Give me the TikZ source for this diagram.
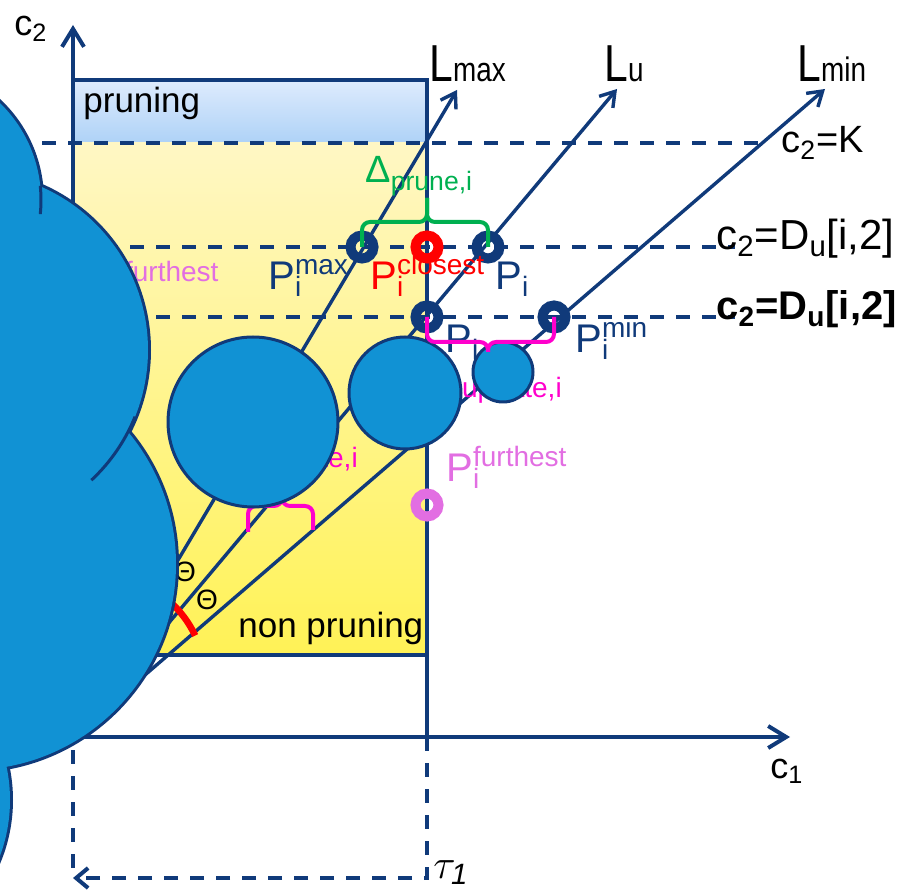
\documentclass[tikz,border=0pt]{standalone}
\usepackage{fontspec}
\setmainfont{Liberation Sans}
\newfontfamily\narrowsf[FakeStretch=0.82]{Liberation Sans}
\usetikzlibrary{arrows.meta}

\definecolor{navy}{RGB}{16,58,122}
\definecolor{cloudblue}{RGB}{17,146,212}
\definecolor{prunetop}{RGB}{222,235,253}
\definecolor{prunebot}{RGB}{174,210,247}
\definecolor{keeptop}{RGB}{255,247,196}
\definecolor{keepbot}{RGB}{255,242,86}
\definecolor{bracegreen}{RGB}{0,176,80}
\definecolor{bracepink}{RGB}{255,0,204}
\definecolor{orchid}{RGB}{226,110,226}

\newcommand{\fs}[1]{\fontsize{#1}{#1}\selectfont}
\newcommand{\Pt}[2]{P\rlap{\textsubscript{#1}}\textsuperscript{#2}}

\begin{document}
\begin{tikzpicture}[
    x=0.5pt, y=-0.5pt,
    ax/.style={navy, line width=2pt, -{Straight Barb[length=9pt, width=11pt]}},
    ray/.style={navy, line width=1.7pt, -{Straight Barb[length=7pt, width=9pt]}},
    level/.style={navy, line width=2pt, dash pattern=on 7pt off 6pt},
    ring/.style={circle, draw=#1, line width=5pt, inner sep=0pt, minimum size=11.5pt},
    bubble/.style={fill=cloudblue, draw=navy, line width=1.5pt},
    lbl/.style={anchor=base west, inner sep=0pt},
    brace/.style={line width=2pt, rounded corners=4pt}
]

\useasboundingbox (0,0) rectangle (899,892);

% regions
\shade[top color=prunetop, bottom color=prunebot] (73,80) rectangle (427,143);
\shade[top color=keeptop, bottom color=keepbot] (73,143) rectangle (427,655);
\draw[navy, line width=1.8pt] (73,80) -- (427,80) -- (427,737);
\draw[navy, line width=1.8pt] (73,655) -- (427,655);

% levels
\draw[level] (42,143) -- (763,143);
\draw[level] (0,247) -- (735,247);
\draw[level] (0,317) -- (735,317);

\node[lbl, font=\fs{17.5}] (prune) at (83,113) {pruning};
\node[lbl, font=\fs{17.5}] (keep) at (238,637) {non pruning};

% rays
\coordinate (O) at (73,737);
\coordinate (tmax) at (457,90);
\coordinate (tu) at (617,89);
\coordinate (tmin) at (825,89);
\draw[ray] (O) -- (tmax);
\draw[ray] (O) -- (tu);
\draw[ray] (O) -- (tmin);

% angle
\coordinate (ac) at (100,680);
\draw[red, line width=3.3pt] (ac) ++(-25:105) arc[start angle=-25, end angle=-70, radius=105];
\node[font=\fs{14}] (th1) at (185,572) {Θ};
\node[font=\fs{14}] (th2) at (207,600) {Θ};

% labels under the bubbles
\coordinate (bl) at (248,532);
\coordinate (br) at (313,530);
\draw[bracepink, brace] (bl) |- (282,506) -- (282,490);
\draw[bracepink, brace] (282,490) -- (282,506) -| (br);
\node[lbl, bracepink, font=\fs{20}] (upd1) at (231,461) {Δ\textsubscript{update,i}};
\node[lbl, bracepink, font=\fs{20}] (upd2) at (435,391) {Δ\textsubscript{update,i}};
\node[lbl, orchid, font=\fs{20}] (far1) at (98,297) {\Pt{i}{furthest}};

% bubbles
\draw[bubble] (253,422) circle[radius=85];
\draw[bubble] (405,393) circle[radius=56];
\draw[bubble] (503,372) circle[radius=30];

% points
\node[ring=navy] (pmax) at (362,247) {};
\node[ring=red] (pclose) at (427,247) {};
\node[ring=navy] (pu) at (488,247) {};
\node[ring=navy] (pulow) at (427,317) {};
\node[ring=navy] (pmin) at (554,317) {};
\node[ring=orchid] (pfar) at (427,505) {};

\node[lbl, navy, font=\fs{20}] (lmaxp) at (268,290) {\Pt{i}{max}};
\node[lbl, red, font=\fs{20}] (lclose) at (370,290) {\Pt{i}{closest}};
\node[lbl, navy, font=\fs{20}] (lu1) at (495,290) {P\textsubscript{i}};
\node[lbl, navy, font=\fs{20}] (lu2) at (445,353) {P\textsubscript{i}};
\node[lbl, navy, font=\fs{20}] (lminp) at (575,353) {\Pt{i}{min}};
\node[lbl, orchid, font=\fs{20}] (lfar) at (446,482) {\Pt{i}{furthest}};

% braces
\draw[bracegreen, brace] (pmax.center) |- (427,222) -- (427,198);
\draw[bracegreen, brace] (427,198) -- (427,222) -| (pu.center);
\node[lbl, bracegreen, font=\fs{19}] (dprune) at (365,183) {Δ\textsubscript{prune,i}};
\draw[bracepink, brace] (pulow.center) |- (488,342) -- (488,352);
\draw[bracepink, brace] (488,352) -- (488,342) -| (pmin.center);

% axes
\draw[ax] (O) -- (73,25);
\draw[ax] (O) -- (790,737);
\node[lbl, font=\fs{18}] (cy) at (14,36) {c\textsubscript{2}};
\node[lbl, font=\fs{18}] (cx) at (770,778) {c\textsubscript{1}};

% tau
\coordinate (tauc) at (427,878);
\draw[level, -{Straight Barb[length=6pt, width=10pt]}] (427,737) -- (tauc) -- (73,878);
\draw[level] (73,750) -- (73,878);
\node[lbl, font=\fs{21}] (tau) at (433,878) {$\tau_{\mathit{1}}$};

% ray and level names
\node[lbl, font=\narrowsf\fs{26}] (lmax) at (429,82) {L{\fs{17}max}};
\node[lbl, font=\narrowsf\fs{26}] (lu) at (604,82) {L{\fs{17}u}};
\node[lbl, font=\narrowsf\fs{26}] (lmin) at (797,82) {L{\fs{17}min}};
\node[lbl, font=\fs{19}] (kline) at (781,153) {c\textsubscript{2}=K};
\node[lbl, font=\fs{21}] (dline) at (716,250) {c\textsubscript{2}=D\textsubscript{u}[i,2]};
\node[lbl, font=\bfseries\fs{20}] (dline2) at (716,320) {c\textsubscript{2}=D\textsubscript{u}[i,2]};

% cloud
\foreach \cx/\cy/\r in {-94/200/135, -30/350/178, -30/564/206, -150/800/160}
  \draw[navy, line width=3pt] (\cx,\cy) circle[radius=\r];
\foreach \cx/\cy/\r in {-94/200/135, -30/350/178, -30/564/206, -150/800/160}
  \fill[cloudblue] (\cx,\cy) circle[radius=\r];
\draw[navy, line width=1.5pt] (-94,200) ++(-6:135) arc[start angle=-6, end angle=6, radius=135];
\draw[navy, line width=1.5pt] (-30,350) ++(22:178) arc[start angle=22, end angle=47, radius=178];

\end{tikzpicture}
\end{document}
